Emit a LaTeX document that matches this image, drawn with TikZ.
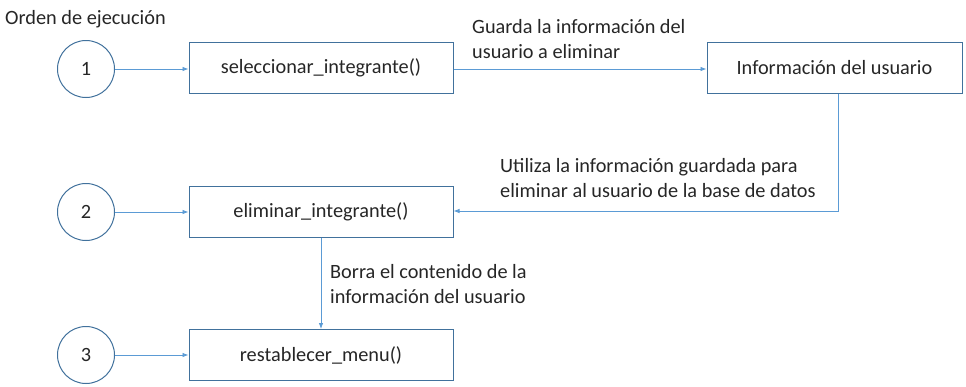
\documentclass[tikz,border=0pt]{standalone}
\usepackage{fontspec}
\setmainfont{Carlito}
\usetikzlibrary{arrows.meta}
\definecolor{boxc}{HTML}{41719C}
\definecolor{arrc}{HTML}{5B9BD5}
\tikzset{
  x=1pt, y=-1pt,
  every node/.style={font=\fontsize{20.3}{25}\selectfont, text=black!85},
  stepc/.style={circle, draw=boxc, line width=1pt, minimum size=57pt, inner sep=0pt},
  fbox/.style={draw=boxc, line width=1pt, minimum width=264pt, minimum height=51pt, inner sep=0pt},
  conn/.style={draw=arrc, line width=0.8pt, -{Latex[length=6pt,width=4.5pt]}},
  lbl/.style={align=left, anchor=base west, inner sep=0pt}
}
\begin{document}
\begin{tikzpicture}
\useasboundingbox (0,0) rectangle (966,386);
\node[anchor=base west, inner sep=0pt] (title) at (5,24) {Orden de ejecución};
\node[stepc] (c1) at (86,69) {1};
\node[stepc] (c2) at (86,212) {2};
\node[stepc] (c3) at (86,355) {3};
\node[fbox] (b1) at (321,67.5) {seleccionar\_integrante()};
\node[fbox, minimum width=255pt] (info) at (834.5,67.5) {Información del usuario};
\node[fbox] (b2) at (321,211.5) {eliminar\_integrante()};
\node[fbox] (b3) at (321,355) {restablecer\_menu()};
\draw[conn] (c1) -- (c1 -| b1.west);
\draw[conn] (c2) -- (c2 -| b2.west);
\draw[conn] (c3) -- (c3 -| b3.west);
\draw[conn] (b1.east |- 0,69) -- (info.west |- 0,69);
\coordinate (corner) at (838,211);
\draw[conn] (info.south -| corner) -- (corner) -- (b2.east |- corner);
\draw[conn] (b2.south) -- (b3.north);
\node[lbl] (l1) at (472,58) {Guarda la información del\\usuario a eliminar};
\node[lbl] (l2) at (500,197) {Utiliza la información guardada para\\eliminar al usuario de la base de datos};
\node[lbl] (l3) at (330,303) {Borra el contenido de la\\información del usuario};
\end{tikzpicture}
\end{document}
